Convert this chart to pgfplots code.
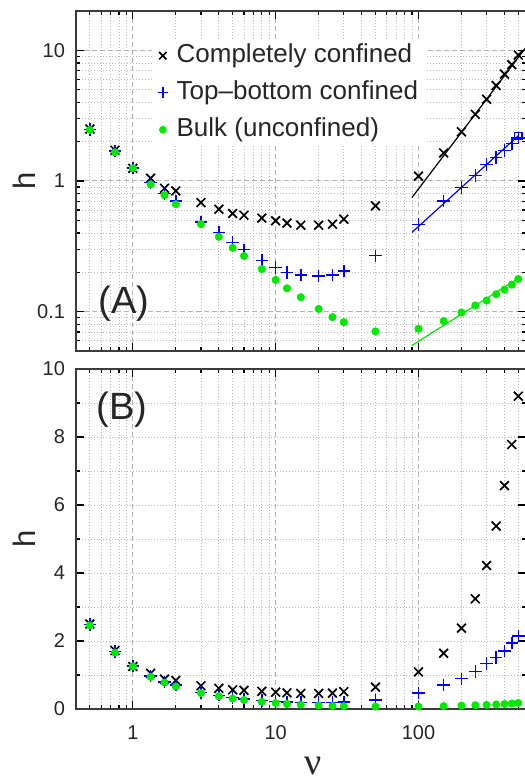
\documentclass[border=0pt]{standalone}
\usepackage{pgfplots}
\pgfplotsset{compat=1.18}
\usepackage{pgfplotstable}
\usepackage{fontspec}
\setmainfont{Liberation Sans}
\newfontfamily\greekserif{Liberation Serif}
\definecolor{mygreen}{RGB}{0,235,0}
\definecolor{framegray}{RGB}{60,60,60}
\pgfkeys{/pgf/number format/assume math mode=true}

\pgfplotstableread{
x      c      t      b
0.5    2.50   2.48   2.46
0.75   1.72   1.69   1.66
1      1.25   1.26   1.25
1.333  1.05   0.97   0.943
1.667  0.88   0.80   0.778
2      0.84   0.70   0.664
3      0.684  0.487  0.467
4      0.608  0.404  0.374
5      0.564  0.339  0.308
6      0.547  0.298  0.267
8      0.520  0.246  0.212
10     0.496  0.218  0.175
12     0.476  0.200  0.151
15     0.459  0.191  0.129
20     0.459  0.187  0.105
25     0.467  0.191  0.0908
30     0.510  0.204  0.0832
50     0.645  0.268  0.0706
100    1.09   0.465  0.074
150    1.64   0.704  0.0847
200    2.38   0.89   0.0986
250    3.24   1.105  0.1115
300    4.22   1.34   0.1217
350    5.38   1.51   0.136
400    6.57   1.71   0.1476
450    7.78   1.94   0.161
500    9.20   2.14   0.178
}\data

\pgfplotsset{
  mypanelstyle/.style={
    scale only axis, width=225pt, height=170pt,
    xmin=0.4, xmax=566,
    clip=false,
    axis line style={framegray, line width=0.75pt},
    tick align=inside, xtick pos=both, ytick pos=both,
    major tick length=4pt, minor tick length=2pt,
    tick style={black, line width=0.6pt},
    xtick={1,10,100},
    minor xtick={0.4,0.5,0.6,0.7,0.8,0.9,2,3,4,5,6,7,8,9,20,30,40,50,60,70,80,90,200,300,400,500},
    grid=both,
    major grid style={gray!60, line width=0.5pt, dash pattern=on 2.5pt off 1.5pt},
    minor grid style={gray!55, line width=0.4pt, dash pattern=on 0.6pt off 0.9pt},
    tick label style={font=\fontsize{10}{12}\selectfont, text=black!85},
    yticklabel style={xshift=-2pt},
    ylabel={h},
    ylabel style={at={(axis description cs:-0.114,0.5)}, anchor=center, font=\fontsize{15.5}{18}\selectfont, text=black!85},
  },
  cplot/.style={black, only marks, mark=x, mark size=3.1pt, mark options={black, line width=0.85pt}},
  tplot/.style={blue, only marks, mark=+, mark size=3.1pt, mark options={blue, line width=0.75pt}},
  bplot/.style={mygreen, only marks, mark=*, mark size=1.8pt, mark options={draw=mygreen, fill=mygreen}},
}

\begin{document}
\begin{tikzpicture}
\useasboundingbox (0pt,0pt) rectangle (262pt,-390pt);

\begin{axis}[xmode=log, ymode=log, mypanelstyle,
  at={(38pt,-5.5pt)}, anchor=north west,
  ymin=0.05, ymax=20,
  ytick={0.1,1,10}, yticklabels={0.1,1,10},
  minor ytick={0.05,0.06,0.07,0.08,0.09,0.2,0.3,0.4,0.5,0.6,0.7,0.8,0.9,2,3,4,5,6,7,8,9,20},
  xticklabels={},
  legend cell align=left,
  legend image code/.code={\draw[#1] plot coordinates {(0pt,0pt)}; \path (-3pt,0pt) (4.7pt,0pt);},
  legend style={at={(axis description cs:0.169,0.9168)}, anchor=north west,
    draw=none, fill=white, inner sep=2pt, row sep=6.5pt,
    font=\fontsize{13}{15}\selectfont, text=black!85,
    nodes={text height=9.5pt, text depth=2.5pt, inner ysep=0pt}},
]
\addplot[cplot, legend image post style={mark size=2.6pt}] table[x=x,y=c]{\data};
\addlegendentry{Completely confined}
\addplot[tplot, legend image post style={mark size=2.6pt}] table[x=x,y=t]{\data};
\addlegendentry{Top--bottom confined}
\addplot[bplot, legend image post style={mark size=1.7pt}] table[x=x,y=b]{\data};
\addlegendentry{Bulk (unconfined)}
\addplot[black, line width=0.6pt, forget plot] coordinates {(90,0.747) (566,10.55)};
\addplot[blue, line width=0.6pt, mark=square, mark indices={2}, mark size=1.8pt, forget plot] coordinates {(90,0.404) (500,2.22)};
\addplot[mygreen, line width=0.6pt, forget plot] coordinates {(90,0.0552) (500,0.18)};
\node[font=\fontsize{19}{22}\selectfont, text=black!85] at (axis description cs:0.1067,0.138) {(A)};
\end{axis}

\begin{axis}[xmode=log, mypanelstyle,
  at={(38pt,-184.5pt)}, anchor=north west,
  ymin=0, ymax=10,
  ytick={0,2,4,6,8,10},
  minor ytick={1,3,5,7,9},
  major y grid style={gray!55, line width=0.4pt, dash pattern=on 0.6pt off 0.9pt},
  xticklabels={1,10,100},
  xticklabel style={yshift=-4.7pt},
  xlabel={\greekserif ν},
  xlabel style={at={(axis description cs:0.5267,0)}, anchor=center, inner sep=0pt, yshift=-28.5pt, font=\fontsize{19}{22}\selectfont, text=black!85},
]
\addplot[cplot] table[x=x,y=c]{\data};
\addplot[tplot] table[x=x,y=t]{\data};
\addplot[bplot] table[x=x,y=b]{\data};
\node[font=\fontsize{19}{22}\selectfont, text=black!85] at (axis description cs:0.1016,0.879) {(B)};
\end{axis}
\end{tikzpicture}
\end{document}
